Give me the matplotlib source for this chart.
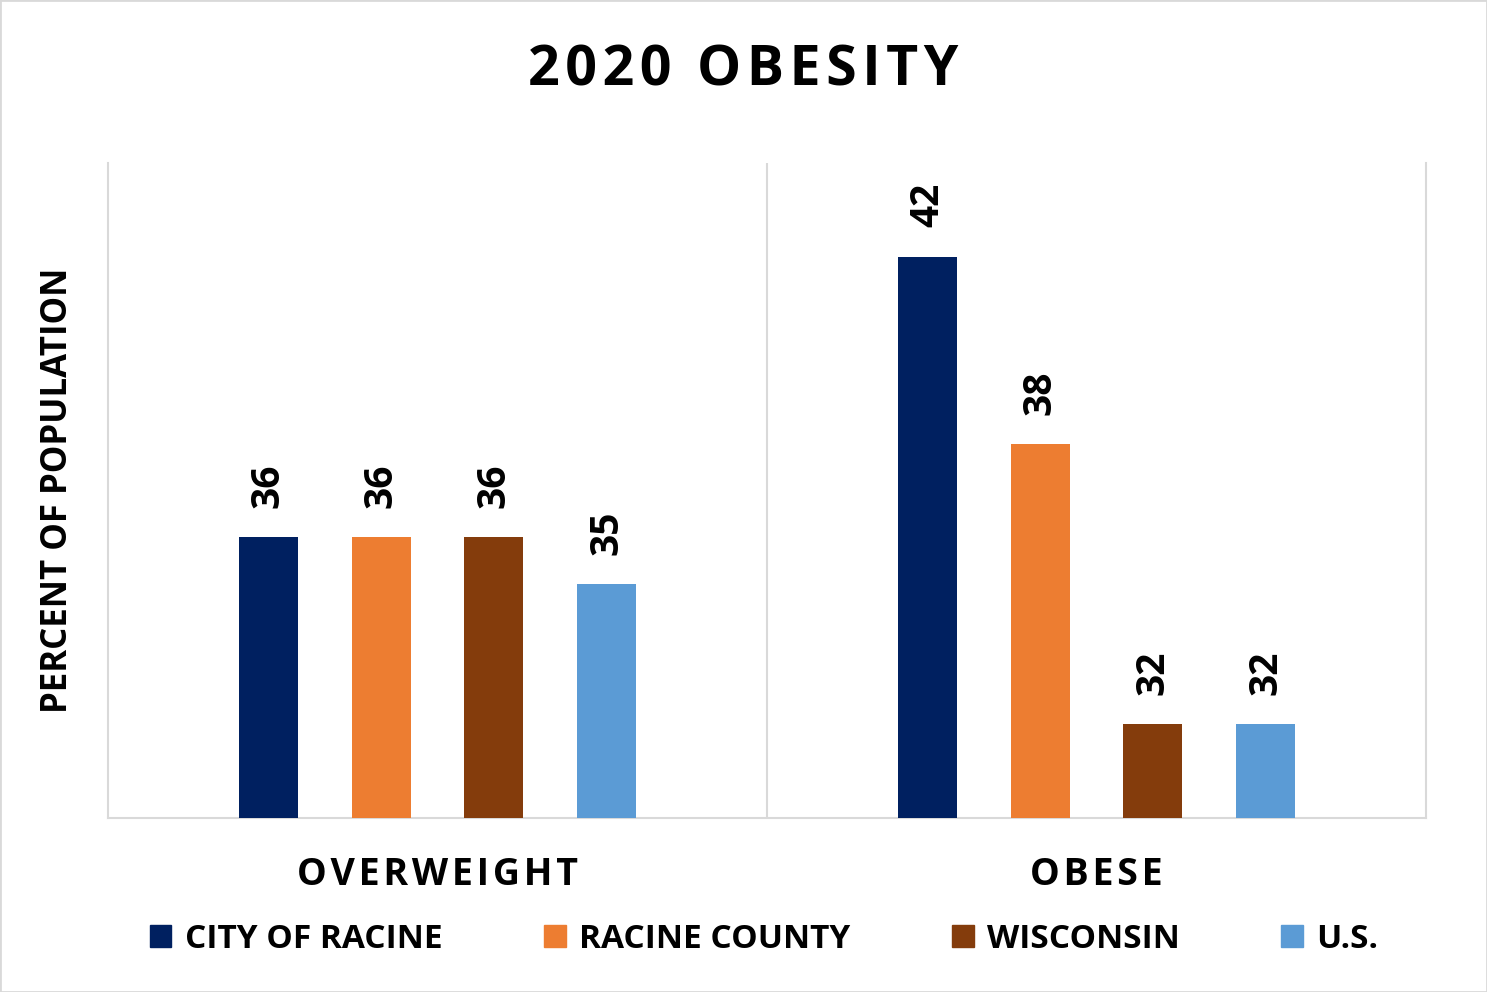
import matplotlib.pyplot as plt
from matplotlib.patches import Patch
import numpy as np

categories = ["OVERWEIGHT", "OBESE"]
series = ["CITY OF RACINE", "RACINE COUNTY", "WISCONSIN", "U.S."]
city_of_racine = [36, 42]
racine_county = [36, 38]
wisconsin = [36, 32]
us = [35, 32]

colors = ["#002060", "#ED7D31", "#843C0C", "#5B9BD5"]
grid_color = "#D9D9D9"

plt.rcParams['font.family'] = ['Open Sans', 'DejaVu Sans']
plt.rcParams['font.weight'] = 'bold'

fig = plt.figure(figsize=(14.87, 9.92), dpi=100)
ax = fig.add_axes([108 / 1487, 1 - 818 / 992, (1426 - 108) / 1487, (818 - 163) / 992])

x = np.arange(len(categories))
width = 0.0895
step = 0.171
values = [city_of_racine, racine_county, wisconsin, us]
for i, (name, vals, c) in enumerate(zip(series, values, colors)):
    pos = x + (i - 1.5) * step
    bars = ax.bar(pos, vals, width=width, color=c, label=name, zorder=3)
    for b, v in zip(bars, vals):
        ax.annotate(str(v), (b.get_x() + b.get_width() / 2, v),
                    xytext=(0, 21), textcoords='offset points',
                    ha='center', va='bottom', rotation=90,
                    fontsize=28, fontweight='bold')

ax.set_xlim(-0.5, 1.5)
ax.set_ylim(30, 44)
ax.set_yticks([])
ax.set_xticks([])
ax.spines['top'].set_visible(False)
for s in ['left', 'right', 'bottom']:
    ax.spines[s].set_color(grid_color)
    ax.spines[s].set_linewidth(1.5)
ax.axvline(0.5, color=grid_color, lw=1.5, zorder=1)

# category labels with a bit of letter spacing
for xi, cat in zip(x, categories):
    ax.text(xi, -0.087, "\u200a".join(cat), transform=ax.get_xaxis_transform(),
            ha='center', va='center', fontsize=27, fontweight='bold')

fig.text(58 / 1487, 1 - 490 / 992, "PERCENT OF POPULATION", rotation=90,
         ha='center', va='center', fontsize=25, fontweight='bold')

title = "\u200a".join("2020") + " \u2009" + "\u200a".join("OBESITY")
fig.text(743 / 1487, 1 - 71 / 992, title,
         ha='center', va='center', fontsize=40, fontweight='bold')

handles = [Patch(color=c) for c in colors]
fig.legend(handles, series, loc='center', bbox_to_anchor=(764 / 1487, 1 - 939 / 992),
           ncol=4, frameon=False, handlelength=0.65, handleheight=0.65,
           handletextpad=0.4, columnspacing=3.05, prop={'weight': 'bold', 'size': 24})

fig.patches.append(plt.Rectangle((0, 0), 1, 1, transform=fig.transFigure,
                                 fill=False, edgecolor=grid_color, lw=2))

fig.savefig("out.png", dpi=100)
